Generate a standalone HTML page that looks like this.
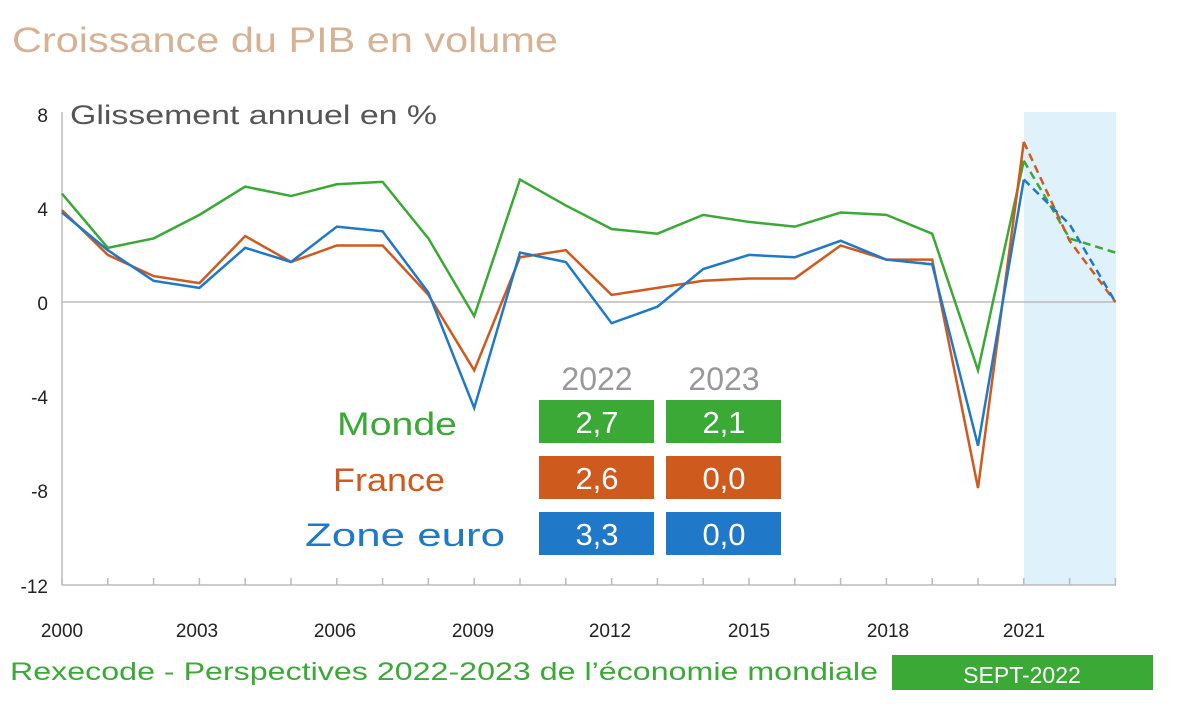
<!DOCTYPE html>
<html><head><meta charset="utf-8"><style>
body{margin:0;background:#fff;width:1200px;height:721px;overflow:hidden;font-family:"Liberation Sans",sans-serif}
</style></head><body>
<svg width="1200" height="721" xmlns="http://www.w3.org/2000/svg" font-family="Liberation Sans, sans-serif">
<text x="12" y="52" font-size="35" fill="#d7b194" textLength="546" lengthAdjust="spacingAndGlyphs">Croissance du PIB en volume</text>
<rect x="1024" y="112" width="92" height="473" fill="#dff1fa"/>
<line x1="62" y1="112" x2="62" y2="585" stroke="#bbb" stroke-width="1.5"/>
<line x1="62" y1="302" x2="1116" y2="302" stroke="#bbb" stroke-width="1.5"/>
<line x1="62" y1="585" x2="1116" y2="585" stroke="#bbb" stroke-width="1.5"/>
<g stroke="#bbb" stroke-width="1.5" id="ticks"></g>
<g font-size="19" fill="#222" text-anchor="end">
<text x="48" y="122">8</text><text x="48" y="216">4</text><text x="48" y="310">0</text><text x="48" y="404">-4</text><text x="48" y="498">-8</text><text x="48" y="593">-12</text>
</g>
<text x="70" y="124" font-size="27" fill="#555" textLength="367" lengthAdjust="spacingAndGlyphs">Glissement annuel en %</text>
<g font-size="19" fill="#222" text-anchor="middle">
<text x="62" y="637">2000</text><text x="197" y="637">2003</text><text x="335" y="637">2006</text><text x="473" y="637">2009</text><text x="610" y="637">2012</text><text x="749" y="637">2015</text><text x="888" y="637">2018</text><text x="1024" y="637">2021</text>
</g>
<g id="series" fill="none" stroke-width="2.5"></g>
<g font-size="32" text-anchor="middle" fill="#999"><text x="597" y="390">2022</text><text x="724" y="390">2023</text></g>
<g font-size="32"><text x="337" y="435" fill="#3aa935" textLength="120" lengthAdjust="spacingAndGlyphs">Monde</text><text x="333" y="491" fill="#cf5a1e" textLength="112" lengthAdjust="spacingAndGlyphs">France</text><text x="305" y="546" fill="#1f78c8" textLength="200" lengthAdjust="spacingAndGlyphs">Zone euro</text></g>
<rect x="539" y="400" width="115" height="43" fill="#3aa935"/><rect x="666" y="400" width="115" height="43" fill="#3aa935"/>
<rect x="539" y="456" width="115" height="43" fill="#cf5a1e"/><rect x="666" y="456" width="115" height="43" fill="#cf5a1e"/>
<rect x="539" y="512" width="115" height="43" fill="#1f78c8"/><rect x="666" y="512" width="115" height="43" fill="#1f78c8"/>
<g font-size="31" fill="#fff" text-anchor="middle">
<text x="597" y="433">2,7</text><text x="724" y="433">2,1</text>
<text x="597" y="489">2,6</text><text x="724" y="489">0,0</text>
<text x="597" y="545">3,3</text><text x="724" y="545">0,0</text>
</g>
<text x="10" y="680" font-size="25" fill="#3aa935" textLength="868" lengthAdjust="spacingAndGlyphs">Rexecode - Perspectives 2022-2023 de l’économie mondiale</text>
<rect x="892" y="655" width="261" height="35" fill="#3aa935"/>
<text x="1022" y="683" font-size="23" fill="#fff" text-anchor="middle">SEPT-2022</text>
</svg>
<script>
const X=y=>62+(y-2000)*45.8, Y=v=>302-v*23.55;
const t=document.getElementById('ticks');let s='';
for(let y=2000;y<=2023;y++)s+=`<line x1="${X(y)}" y1="578" x2="${X(y)}" y2="585"/>`;t.innerHTML=s;
const D={"#3aa935":[4.6,2.3,2.7,3.7,4.9,4.5,5.0,5.1,2.7,-0.6,5.2,4.1,3.1,2.9,3.7,3.4,3.2,3.8,3.7,2.9,-2.9,6.0,2.7,2.1],
"#cf5a1e":[3.9,2.0,1.1,0.8,2.8,1.7,2.4,2.4,0.3,-2.9,1.9,2.2,0.3,0.6,0.9,1.0,1.0,2.4,1.8,1.8,-7.9,6.8,2.6,0.0],
"#1f78c8":[3.8,2.2,0.9,0.6,2.3,1.7,3.2,3.0,0.4,-4.5,2.1,1.7,-0.9,-0.2,1.4,2.0,1.9,2.6,1.8,1.6,-6.1,5.2,3.3,0.0]};
let g='';for(const c in D){const d=D[c];
const p=d.slice(0,22).map((v,i)=>X(2000+i)+','+Y(v)).join(' ');
const q=d.slice(21).map((v,i)=>X(2021+i)+','+Y(v)).join(' ');
g+=`<polyline points="${p}" stroke="${c}"/><polyline points="${q}" stroke="${c}" stroke-dasharray="8,5"/>`;}
document.getElementById('series').innerHTML=g;
</script>
</body></html>
